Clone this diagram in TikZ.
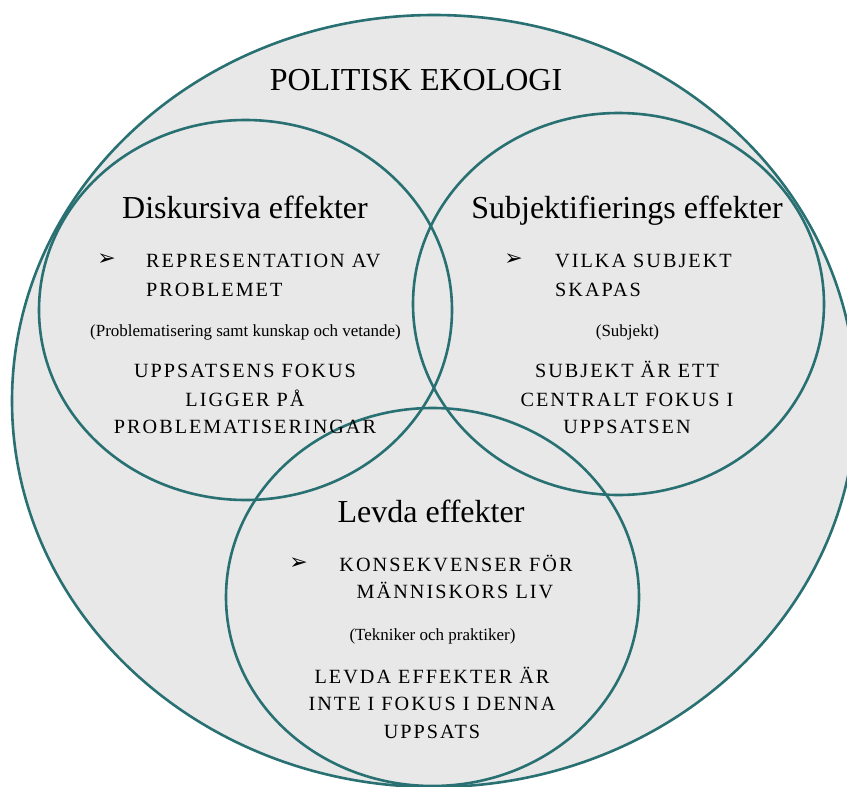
\documentclass[tikz,border=0pt]{standalone}
\usepackage{fontspec}
\setmainfont{Liberation Serif}
\newfontfamily\capsfont[LetterSpace=10]{Liberation Serif}
\newfontfamily\symfont{DejaVu Sans}
\definecolor{ringc}{RGB}{40,112,114}
\definecolor{fillg}{RGB}{232,232,232}
\begin{document}
\begin{tikzpicture}[x=1pt,y=-1pt,
  ring/.style={draw=ringc,line width=2.6pt},
  heading/.style={anchor=base,inner sep=0pt,font=\fontsize{32}{38}\selectfont},
  capline/.style={anchor=base,inner sep=0pt,font=\capsfont\fontsize{20.2}{24}\selectfont},
  capleft/.style={capline,anchor=base west},
  paren/.style={anchor=base,inner sep=0pt,font=\fontsize{17}{20}\selectfont},
  bul/.style={anchor=center,inner sep=0pt,font=\symfont\fontsize{22}{24}\selectfont}]
\useasboundingbox (0,0) rectangle (847,787);
\fill[fillg] (434,401) ellipse [x radius=422pt, y radius=386pt];
\draw[ring] (434,401) ellipse [x radius=422pt, y radius=386pt];
\draw[ring] (245.5,310) ellipse [x radius=206.5pt, y radius=190pt];
\draw[ring] (618.5,304) ellipse [x radius=205.5pt, y radius=191pt];
\draw[ring] (432.5,597) ellipse [x radius=206.5pt, y radius=189pt];

\node[heading] (title) at (416,90) {POLITISK EKOLOGI};

% left
\node[heading] (hdisk) at (245,218) {Diskursiva effekter};
\node[bul] (b1) at (106.5,260) {➢};
\node[capleft] (d1) at (146,267) {REPRESENTATION AV};
\node[capleft] (d2) at (146,296) {PROBLEMET};
\node[paren] (dp) at (245.5,336) {(Problematisering samt kunskap och vetande)};
\node[capline] (d3) at (245,377) {UPPSATSENS FOKUS};
\node[capline] (d4) at (245,406) {LIGGER PÅ};
\node[capline] (d5) at (245,433) {PROBLEMATISERINGAR};

% right
\node[heading] (hsub) at (627,218) {Subjektifierings effekter};
\node[bul] (b2) at (513.5,260) {➢};
\node[capleft] (s1) at (555,267) {VILKA SUBJEKT};
\node[capleft] (s2) at (555,296) {SKAPAS};
\node[paren] (sp) at (627.5,336) {(Subjekt)};
\node[capline] (s3) at (627,377) {SUBJEKT ÄR ETT};
\node[capline] (s4) at (627,406) {CENTRALT FOKUS I};
\node[capline] (s5) at (627,433) {UPPSATSEN};

% bottom
\node[heading] (hlev) at (431,522) {Levda effekter};
\node[bul] (b3) at (298.5,563.5) {➢};
\node[capline] (l1) at (456,571) {KONSEKVENSER FÖR};
\node[capline] (l2) at (455,598) {MÄNNISKORS LIV};
\node[paren] (lp) at (432.5,640) {(Tekniker och praktiker)};
\node[capline] (l3) at (432,683) {LEVDA EFFEKTER ÄR};
\node[capline] (l4) at (432,710) {INTE I FOKUS I DENNA};
\node[capline] (l5) at (432,738) {UPPSATS};
\end{tikzpicture}
\end{document}
